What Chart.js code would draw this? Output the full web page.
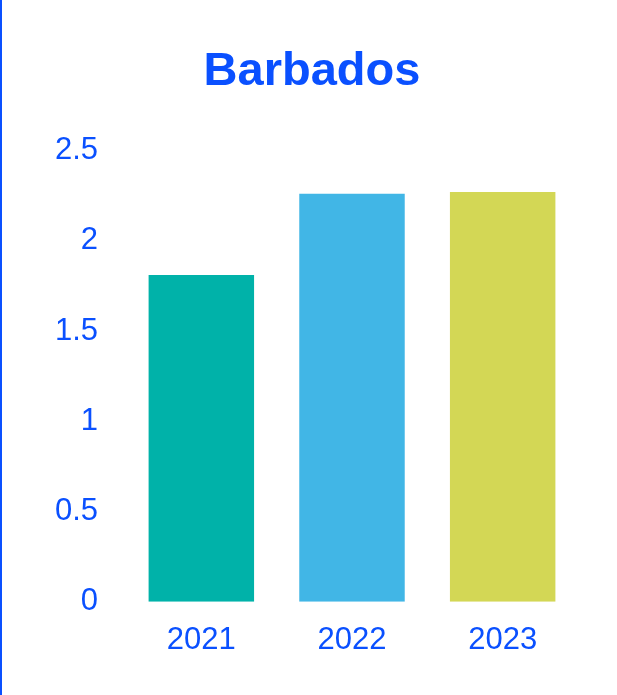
<!DOCTYPE html>
<html>
<head>
<meta charset="utf-8">
<script src="https://cdn.jsdelivr.net/npm/chart.js@4.4.1/dist/chart.umd.min.js"></script>
<style>
    html, body { margin: 0; padding: 0; background: #fff; }
    #wrap { position: relative; width: 617px; height: 695px; }
    #wrap::before {
        content: ""; position: absolute; left: 0; top: 0;
        width: 2px; height: 695px; background: #0a50ff;
    }
</style>
</head>
<body>
<div id="wrap"><canvas id="chart" width="617" height="695"></canvas></div>
<script>
const years = ["2021", "2022", "2023"];
const values = [1.81, 2.26, 2.27];
const barColors = ["#00b2a9", "#41b6e6", "#d3d755"];
const yTicks = [0, 0.5, 1, 1.5, 2, 2.5];

const blue = "#0a50ff";
const font = "'Liberation Sans', Arial, sans-serif";

const ctx = document.getElementById("chart").getContext("2d");

new Chart(ctx, {
    type: "bar",
    data: {
        labels: years,
        datasets: [{
            data: values,
            backgroundColor: barColors,
            borderWidth: 0,
            categoryPercentage: 1,
            barPercentage: 0.7
        }]
    },
    options: {
        responsive: false,
        animation: false,
        layout: { padding: { left: 46, right: 39, top: 0, bottom: 16 } },
        plugins: {
            legend: { display: false },
            tooltip: { enabled: false },
            title: {
                display: true,
                text: "Barbados",
                color: blue,
                font: { family: font, size: 47, weight: "bold" },
                padding: { top: 44, bottom: 50 }
            }
        },
        scales: {
            x: {
                grid: { display: false, drawTicks: false },
                border: { display: false },
                ticks: { color: blue, font: { family: font, size: 31 }, padding: 20 }
            },
            y: {
                min: 0,
                max: 2.5,
                afterBuildTicks: s => { s.ticks = yTicks.map(v => ({ value: v })); },
                afterFit: s => { s.width = 80; },
                grid: { display: false, drawTicks: false },
                border: { display: false },
                ticks: {
                    color: blue,
                    font: { family: font, size: 31 },
                    padding: 28,
                    callback: v => String(v)
                }
            }
        }
    }
});
</script>
</body>
</html>
